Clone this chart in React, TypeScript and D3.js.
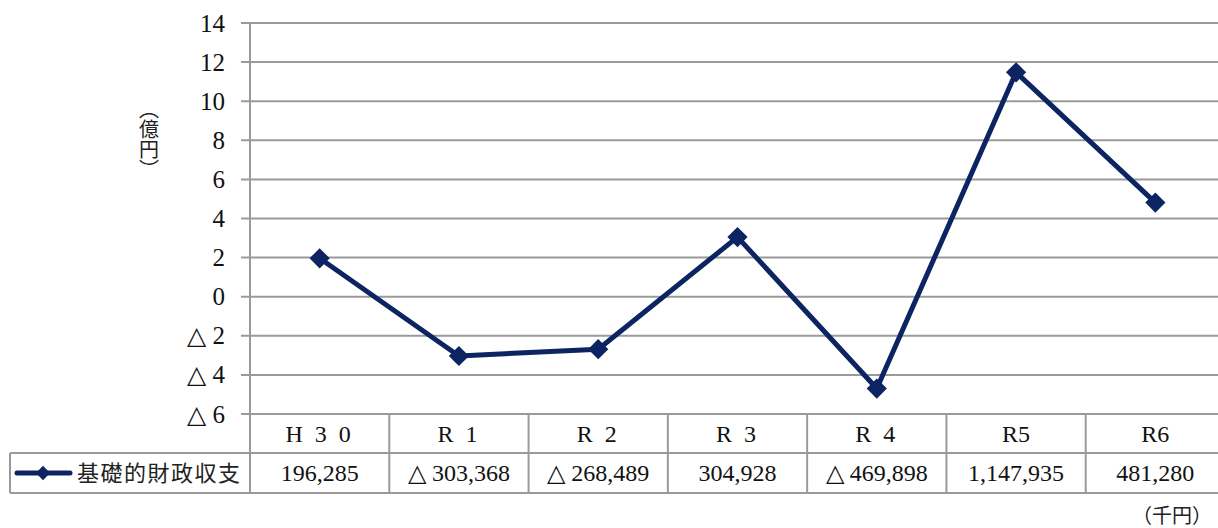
import React from 'react';
import * as d3 from 'd3';

// categories as shown in the table header
const categories = ['H 3 0', 'R 1', 'R 2', 'R 3', 'R 4', 'R5', 'R6'];
// 基礎的財政収支 (千円)
const values = [196285, -303368, -268489, 304928, -469898, 1147935, 481280];
const valueLabels = ['196,285', '△ 303,368', '△ 268,489', '304,928', '△ 469,898', '1,147,935', '481,280'];
const yTicks = [14, 12, 10, 8, 6, 4, 2, 0, -2, -4, -6];
const seriesName = '基礎的財政収支';

const NAVY = '#0c2461';
const GRID = '#9a9a9a';
const SERIF = "'Liberation Serif'";
const SANS = "'Noto Sans CJK JP'";

const width = 1218;
const height = 528;
const left = 250;
const right = 1225;
const top = 23;
const bottom = 414;
const row1 = 453;
const row2 = 493;
const tableLeft = 10;

const App = () => {
  const x = d3.scaleBand().domain(categories).range([left, right]).padding(0);
  const y = d3.scaleLinear().domain([-6, 14]).range([bottom, top]);
  const cx = (c: string) => (x(c) as number) + x.bandwidth() / 2;

  const pts = values.map((v, i) => ({ c: categories[i], v: v / 100000 }));
  const line = d3.line<{ c: string; v: number }>()
    .x(d => cx(d.c))
    .y(d => y(d.v));
  const bigDiamond = d3.symbol(d3.symbolDiamond2, 260)() as string;
  const smallDiamond = d3.symbol(d3.symbolDiamond2, 130)() as string;
  const ly = (row1 + row2) / 2;

  return (
    <div style={{ position: 'absolute', left: 0, top: 0 }}>
      <svg width={width} height={height} style={{ display: 'block', background: '#fff' }}>
        {/* gridlines */}
        {yTicks.map(t => (
          <line key={t} x1={left - 9} x2={right} y1={y(t)} y2={y(t)} stroke={GRID} strokeWidth={2} />
        ))}

        {/* y tick labels, negatives with △ */}
        {yTicks.map(t => (
          <text key={'l' + t} x={225} y={y(t)} dy="0.34em" textAnchor="end"
            style={{ fontFamily: SERIF, fontSize: 25 }} fill="#111">
            {t < 0 ? `△ ${-t}` : `${t}`}
          </text>
        ))}

        {/* y unit, vertical */}
        <text x={149} y={99} fill="#222"
          style={{ fontFamily: SANS, fontSize: 20, writingMode: 'vertical-rl' }}>
          （億円）
        </text>

        {/* table lines */}
        <g stroke={GRID} strokeWidth={2}>
          <line x1={tableLeft} x2={right} y1={row1} y2={row1} />
          <line x1={tableLeft} x2={right} y1={row2} y2={row2} />
          <line x1={tableLeft} x2={tableLeft} y1={row1} y2={row2} />
          <line x1={left} x2={left} y1={top} y2={row2} />
          {categories.map(c => {
            const xe = (x(c) as number) + x.bandwidth();
            return <line key={c} x1={xe} x2={xe} y1={bottom} y2={row2} />;
          })}
        </g>

        {/* category labels */}
        {categories.map(c => (
          <text key={'c' + c} x={cx(c)} y={(bottom + row1) / 2} dy="0.34em" textAnchor="middle"
            fill="#111" style={{ fontFamily: SERIF, fontSize: 24, letterSpacing: c.includes(' ') ? 3 : 0 }}>
            {c}
          </text>
        ))}

        {/* value labels */}
        {valueLabels.map((v, i) => (
          <text key={'v' + i} x={cx(categories[i])} y={ly} dy="0.34em" textAnchor="middle"
            fill="#111" style={{ fontFamily: SERIF, fontSize: 24 }}>
            {v}
          </text>
        ))}

        {/* legend key */}
        <line x1={17} x2={70} y1={ly} y2={ly} stroke={NAVY} strokeWidth={5} strokeLinecap="round" />
        <path d={smallDiamond} transform={`translate(43,${ly})`} fill={NAVY} />
        <text x={77} y={ly} dy="0.35em" fill="#222"
          style={{ fontFamily: SANS, fontSize: 22, letterSpacing: 1.5 }}>
          {seriesName}
        </text>

        {/* series */}
        <path d={line(pts) as string} fill="none" stroke={NAVY} strokeWidth={5} strokeLinejoin="round" />
        {pts.map(p => (
          <path key={'p' + p.c} d={bigDiamond} transform={`translate(${cx(p.c)},${y(p.v)})`} fill={NAVY} />
        ))}

        {/* unit note */}
        <text x={1212} y={516} dy="0.35em" textAnchor="end" fill="#222"
          style={{ fontFamily: SANS, fontSize: 20 }}>
          （千円）
        </text>
      </svg>
    </div>
  );
};

export default App;
